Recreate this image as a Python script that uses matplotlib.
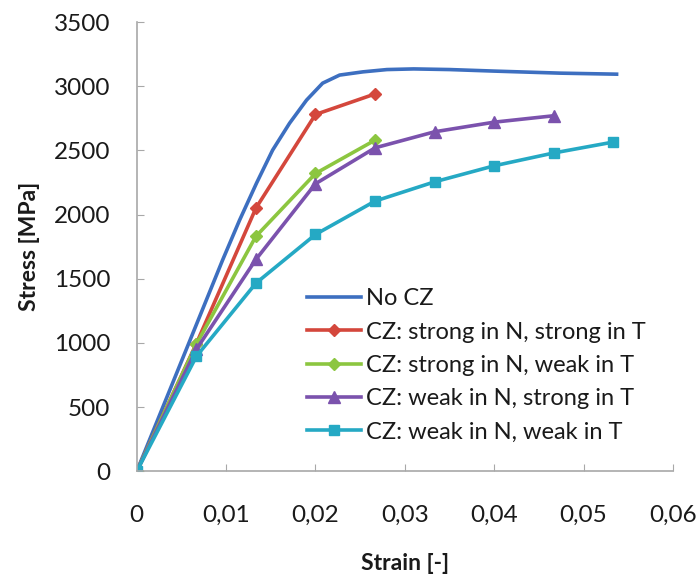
import matplotlib
matplotlib.use("Agg")
import matplotlib.pyplot as plt
from matplotlib.ticker import FuncFormatter

# data
strain_nocz = [0, 0.0096, 0.0115, 0.0134, 0.0152, 0.0171, 0.0190, 0.0208,
               0.0227, 0.0253, 0.0280, 0.0310, 0.0350, 0.0400, 0.0474, 0.0537]
stress_nocz = [0, 1645, 1956, 2245, 2502, 2712, 2892, 3024,
               3087, 3112, 3130, 3135, 3130, 3118, 3102, 3094]

strain_pts = [0, 0.00667, 0.01333, 0.02, 0.02667, 0.03333, 0.04, 0.04667, 0.05333]

stress_ss = [0, 995, 2050, 2780, 2940]
stress_sw = [0, 990, 1830, 2320, 2580]
stress_ws = [0, 950, 1650, 2240, 2520, 2645, 2720, 2770]
stress_ww = [0, 895, 1465, 1845, 2105, 2255, 2380, 2480, 2565]

labels = ["No CZ",
          "CZ: strong in N, strong in T",
          "CZ: strong in N, weak in T",
          "CZ: weak in N, strong in T",
          "CZ: weak in N, weak in T"]

plt.rcParams['font.family'] = ['Lato', 'DejaVu Sans']

fig = plt.figure(figsize=(6.98, 5.81), dpi=100)
ax = fig.add_axes([0.196, 0.189, 0.768, 0.773])

lw = 2.6
ax.plot(strain_nocz, stress_nocz, color='#3d6fc0', lw=lw, label=labels[0])
ax.plot(strain_pts[:len(stress_ss)], stress_ss, color='#d4473c', lw=lw,
        marker='D', ms=6, label=labels[1])
ax.plot(strain_pts[:len(stress_sw)], stress_sw, color='#8cc640', lw=lw,
        marker='D', ms=6, label=labels[2])
ax.plot(strain_pts[:len(stress_ws)], stress_ws, color='#7b52ad', lw=lw,
        marker='^', ms=8, label=labels[3])
ax.plot(strain_pts[:len(stress_ww)], stress_ww, color='#25a9c4', lw=lw,
        marker='s', ms=7, label=labels[4])

ax.set_xlim(0, 0.06)
ax.set_ylim(0, 3500)
ax.set_xticks([0, 0.01, 0.02, 0.03, 0.04, 0.05, 0.06])
ax.set_yticks(range(0, 3501, 500))
ax.xaxis.set_major_formatter(FuncFormatter(
    lambda v, p: "0" if v == 0 else f"{v:.2f}".replace(".", ",")))

for s in ['top', 'right']:
    ax.spines[s].set_visible(False)
for s in ['left', 'bottom']:
    ax.spines[s].set_color('#a8a8a8')
    ax.spines[s].set_linewidth(1.2)

ax.tick_params(axis='both', direction='in', length=5, color='#a8a8a8',
               labelsize=17.5, labelcolor='#1a1a1a')
ax.tick_params(axis='x', pad=24)
ax.tick_params(axis='y', pad=19)

ax.set_xlabel("Strain [-]", fontsize=16.5, fontweight='bold', labelpad=20,
              color='#1a1a1a')
ax.set_ylabel("Stress [MPa]", fontsize=16.5, fontweight='bold', labelpad=10,
              color='#1a1a1a')

ax.legend(loc='upper left', bbox_to_anchor=(0.30, 0.428), frameon=False,
          fontsize=17, handlelength=2.3, handletextpad=0.2,
          labelspacing=0.52, borderaxespad=0, labelcolor='#1a1a1a')

fig.savefig("out.png", dpi=100)
